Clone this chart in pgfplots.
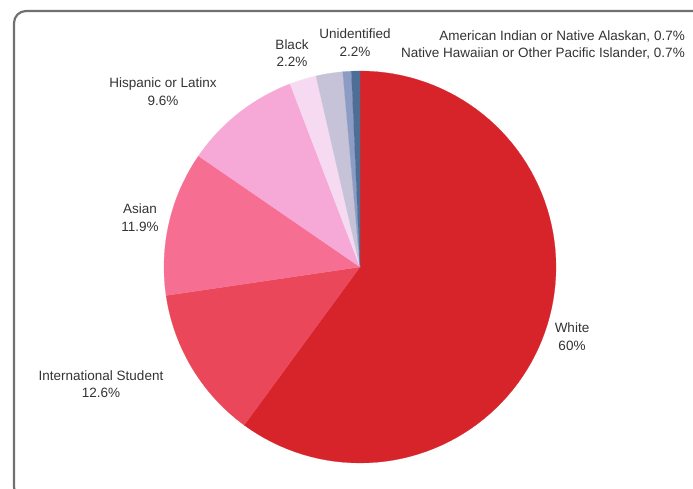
\documentclass[border=0pt]{standalone}
\usepackage{fontspec}
\setmainfont{Liberation Sans}
\usepackage{pgfplots}
\pgfplotsset{compat=1.18}
\definecolor{cWhite}{RGB}{214,36,42}
\definecolor{cIntl}{RGB}{234,72,90}
\definecolor{cAsian}{RGB}{246,110,145}
\definecolor{cHisp}{RGB}{246,168,214}
\definecolor{cBlack}{RGB}{246,218,241}
\definecolor{cUnid}{RGB}{198,194,216}
\definecolor{cAI}{RGB}{140,156,196}
\definecolor{cNH}{RGB}{78,110,150}
\definecolor{frame}{RGB}{112,112,112}
\definecolor{txt}{RGB}{51,51,51}
% \slice{cumulative start (%)}{share (%)}{colour}
\newcommand\slice[3]{\addplot[fill=#3, draw=#3, line width=0.2pt,
  domain={90-360*(#1+#2)/99.9}:{90-360*(#1)/99.9}, samples=90]
  ({cos(x)},{sin(x)}) -- (axis cs:0,0) -- cycle;}
\begin{document}
\begin{tikzpicture}
\useasboundingbox (0pt,0pt) rectangle (693pt,489pt);
\begin{scope}
\clip (0pt,0pt) rectangle (693pt,489pt);
\draw[line width=2.2pt, color=frame, rounded corners=12pt] (14pt,478pt) rectangle (708pt,-10pt);
\end{scope}
\begin{axis}[at={(360pt,222pt)}, anchor=center, width=392pt, height=392pt,
  scale only axis, xmin=-1, xmax=1, ymin=-1, ymax=1, hide axis, clip=false]
\slice{0}{60}{cWhite}
\slice{60}{12.6}{cIntl}
\slice{72.6}{11.9}{cAsian}
\slice{84.5}{9.6}{cHisp}
\slice{94.1}{2.2}{cBlack}
\slice{96.3}{2.2}{cUnid}
\slice{98.5}{0.7}{cAI}
\slice{99.2}{0.7}{cNH}
\end{axis}
\tikzset{lab/.style={align=center, text=txt, font=\fontsize{13.5}{17.5}\selectfont, inner sep=0pt}}
\node[lab] at (572pt,152.5pt) {White\\60\%};
\node[lab] at (101pt,105pt) {International Student\\12.6\%};
\node[lab] at (140pt,271.5pt) {Asian\\11.9\%};
\node[lab] at (163pt,397.5pt) {Hispanic or Latinx\\9.6\%};
\node[lab] at (292pt,436pt) {Black\\2.2\%};
\node[lab] at (355pt,446.5pt) {Unidentified\\2.2\%};
\node[lab, anchor=east] at (685pt,453pt) {American Indian or Native Alaskan, 0.7\%};
\node[lab, anchor=east] at (685pt,436pt) {Native Hawaiian or Other Pacific Islander, 0.7\%};
\end{tikzpicture}
\end{document}
